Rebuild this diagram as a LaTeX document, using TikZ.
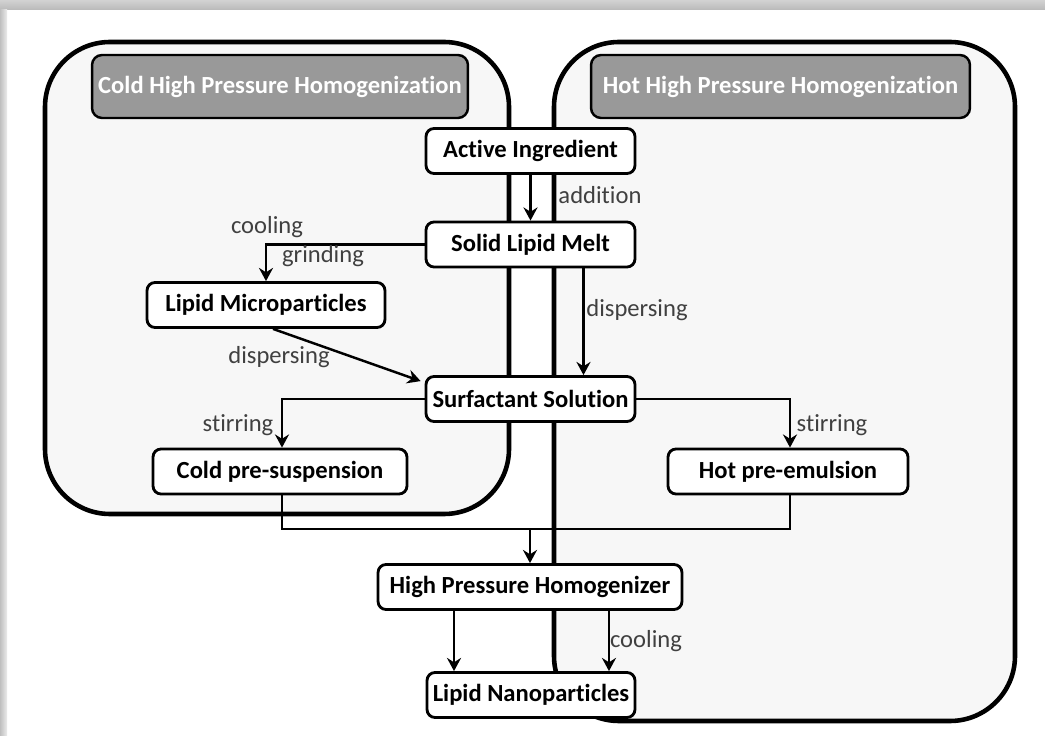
\documentclass[tikz,border=0pt]{standalone}
\usepackage{fontspec}
\setmainfont{Carlito}[Ligatures=NoCommon]
\usetikzlibrary{arrows.meta,calc}

\definecolor{panelfill}{HTML}{F7F7F7}
\definecolor{titlefill}{HTML}{999999}
\definecolor{labelgray}{HTML}{404040}

\tikzset{
  panel/.style={draw, line width=2.6pt, rounded corners=1.3cm, fill=panelfill},
  titlebar/.style={draw, line width=1.4pt, rounded corners=0.2cm, fill=titlefill,
    text=white, font=\fontsize{14}{16}\selectfont\bfseries,
    minimum height=1.26cm, inner sep=0pt},
  stepbox/.style={draw, line width=1.6pt, rounded corners=0.16cm, fill=white,
    font=\fontsize{14}{16}\selectfont\bfseries, minimum height=0.9cm, inner sep=0pt},
  lbl/.style={text=labelgray, font=\fontsize{14}{16}\selectfont, inner sep=0pt},
  link/.style={line width=1.4pt},
  arr/.style={line width=1.4pt, -{Stealth[length=7.5pt,width=8pt,inset=2.5pt]}}
}

\begin{document}
\begin{tikzpicture}[x=0.02cm, y=-0.02cm]
		%%%%% FRAME %%%%%
		\useasboundingbox (0,0) rectangle (1045,736);
		\fill[white] (0,0) rectangle (1045,736);
		\fill[top color=gray!35, bottom color=gray!55] (0,0) rectangle (1045,10);
		\fill[left color=gray!50, right color=gray!15] (0,10) rectangle (7,736);
		
		%%%%% PANELS %%%%%
		\draw[panel] (45,42) rectangle (509,514);
		\draw[panel] (554,42) rectangle (1015,721);
		\node[titlebar, minimum width=7.52cm] (coldtitle) at (280,86.5) {Cold High Pressure Homogenization};
		\node[titlebar, minimum width=7.58cm] (hottitle) at (780.5,86.5) {Hot High Pressure Homogenization};
		
		%%%%% STEPS %%%%%
		\node[stepbox, minimum width=4.18cm] (active) at (530.5,151) {Active Ingredient};
		\node[stepbox, minimum width=4.18cm] (melt) at (530.5,244.5) {Solid Lipid Melt};
		\node[stepbox, minimum width=4.76cm] (micro) at (266,305) {Lipid Microparticles};
		\node[stepbox, minimum width=4.18cm] (surf) at (530.5,399) {Surfactant Solution};
		\node[stepbox, minimum width=5.08cm] (coldsusp) at (280,471.5) {Cold pre-suspension};
		\node[stepbox, minimum width=4.80cm] (hotemul) at (788,471.5) {Hot pre-emulsion};
		\node[stepbox, minimum width=6.08cm] (homog) at (530,587) {High Pressure Homogenizer};
		\node[stepbox, minimum width=4.16cm] (nano) at (531,695) {Lipid Nanoparticles};
		
		%%%%% CONNECTORS %%%%%
		\draw[arr] (active) -- (melt);
		\draw[arr] (melt.west) -| (micro.north);
		\draw[arr] ($(micro.south)+(7,0)$) -- ($(surf.north west)+(-4,6)$);
		\draw[arr] ([xshift=1.06cm]melt.south) -- ([xshift=1.06cm]surf.north);
		\draw[arr] (surf.west) -| ([xshift=0.04cm]coldsusp.north);
		\draw[arr] (surf.east) -| ([xshift=0.04cm]hotemul.north);
		\coordinate (join) at (530,529);
		\draw[link] ([xshift=0.04cm]coldsusp.south) |- (join) -| ([xshift=0.04cm]hotemul.south);
		\draw[arr] (join) -- (homog.north);
		\draw[arr] ([xshift=-1.52cm]homog.south) -- ([xshift=-1.52cm]homog.south |- nano.north);
		\draw[arr] ([xshift=1.58cm]homog.south) -- ([xshift=1.58cm]homog.south |- nano.north);
		
		%%%%% LABELS %%%%%
		\node[lbl] (addition) at (600,195) {addition};
		\node[lbl] (cooling1) at (267,227) {cooling};
		\node[lbl] (grinding) at (323,256) {grinding};
		\node[lbl] (disp1) at (279,357) {dispersing};
		\node[lbl] (disp2) at (637,310) {dispersing};
		\node[lbl] (stir1) at (238,425) {stirring};
		\node[lbl] (stir2) at (832,425) {stirring};
		\node[lbl] (cooling2) at (646,641) {cooling};
	\end{tikzpicture}
\end{document}
